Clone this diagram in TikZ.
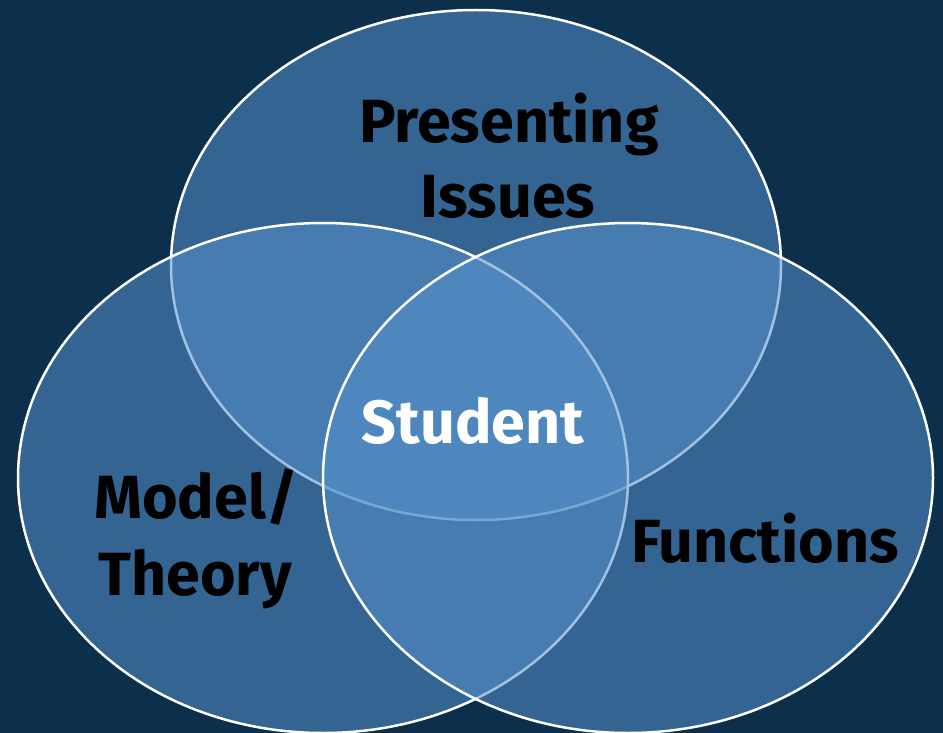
\documentclass[tikz,border=0pt]{standalone}
\usepackage{fontspec}
\setmainfont{Fira Sans}
\begin{document}
\begin{tikzpicture}[x=1pt,y=-1pt]
\definecolor{bg}{RGB}{12,47,76}
\definecolor{cfill}{RGB}{85,145,203}
\tikzset{
  venn/.style={draw=white, line width=2.5pt, fill=cfill, fill opacity=0.55},
  lbl/.style={font=\fontsize{61}{72}\selectfont\bfseries, text=black, inner sep=0pt, anchor=base},
  wlbl/.style={lbl, text=white}
}
\fill[bg] (0,0) rectangle (943,733);
\useasboundingbox (0,0) rectangle (943,733);
\path[venn] (476,265) ellipse [x radius=305, y radius=255];
\path[venn] (323,478) ellipse [x radius=305, y radius=255];
\path[venn] (628,478) ellipse [x radius=305, y radius=255];
\node[lbl] (pres) at (509,143) {Presenting};
\node[lbl] (iss) at (508,218) {Issues};
\node[wlbl] (stu) at (473,443) {Student};
\node[lbl] (model) at (196,518) {Model/};
\node[lbl] (theory) at (195,595) {Theory};
\node[lbl] (func) at (765,562) {Functions};
\end{tikzpicture}
\end{document}
